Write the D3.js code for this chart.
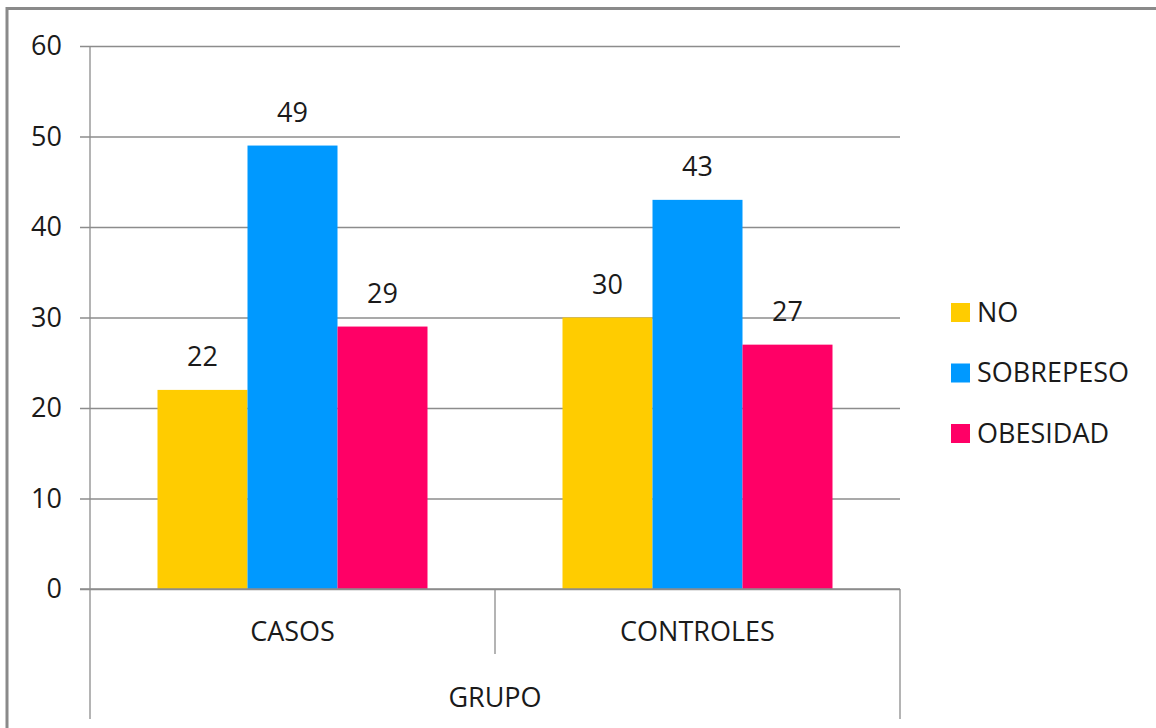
<!DOCTYPE html>
<html>
<head>
<meta charset="utf-8">
<script src="https://cdn.jsdelivr.net/npm/d3@7"></script>
<style>
  body { margin: 0; background: #fff; }
  text { font-family: "Open Sans", sans-serif; fill: #1a1a1a; }
</style>
</head>
<body>
<div id="chart"></div>
<script>
// data
var categories = ["CASOS", "CONTROLES"];
var series = ["NO", "SOBREPESO", "OBESIDAD"];
var noValues = [22, 30];
var sobrepesoValues = [49, 43];
var obesidadValues = [29, 27];
var yTicks = [0, 10, 20, 30, 40, 50, 60];
var axisTitle = "GRUPO";

var colors = ["#ffcc00", "#0099ff", "#ff0066"];
var valuesBySeries = [noValues, sobrepesoValues, obesidadValues];

var svgWidth = 1156;
var svgHeight = 728;

var plot = { left: 90, right: 900, top: 46, bottom: 589 };
var fontSize = 27;

var svg = d3.select("#chart")
  .append("svg")
  .attr("width", svgWidth)
  .attr("height", svgHeight);

// outer frame
svg.append("rect")
  .attr("x", 7)
  .attr("y", 8.5)
  .attr("width", svgWidth + 20)
  .attr("height", svgHeight + 20)
  .attr("fill", "none")
  .attr("stroke", "#8a8a8a")
  .attr("stroke-width", 3);

// scales
var x0 = d3.scaleBand()
  .domain(categories)
  .range([plot.left, plot.right]);

var x1 = d3.scaleBand()
  .domain(series)
  .range([0, x0.bandwidth()])
  .paddingOuter(0.75);

var y = d3.scaleLinear()
  .domain([0, 60])
  .range([plot.bottom, plot.top]);

// y axis with gridlines
var leftAxis = d3.axisLeft(y)
  .tickValues(yTicks)
  .tickSize(-(plot.right - plot.left))
  .tickPadding(28);

var yAxis = svg.append("g")
  .attr("transform", `translate(${plot.left}, 0)`)
  .call(leftAxis);

yAxis.select(".domain").remove();
yAxis.selectAll(".tick line")
  .attr("stroke", "#8c8c8c")
  .attr("stroke-width", 1.3)
  .attr("x1", -10);
yAxis.selectAll(".tick text")
  .style("font-family", "'Open Sans', sans-serif")
  .style("font-size", fontSize + "px")
  .attr("fill", "#1a1a1a");

// vertical axis line (runs down through the category area)
svg.append("line")
  .attr("x1", plot.left).attr("x2", plot.left)
  .attr("y1", plot.top).attr("y2", 719)
  .attr("stroke", "#8c8c8c")
  .attr("stroke-width", 1.3);

// category separators
svg.append("line")
  .attr("x1", x0(categories[1])).attr("x2", x0(categories[1]))
  .attr("y1", plot.bottom).attr("y2", 654)
  .attr("stroke", "#8c8c8c")
  .attr("stroke-width", 1.3);

svg.append("line")
  .attr("x1", plot.right).attr("x2", plot.right)
  .attr("y1", plot.bottom).attr("y2", 719)
  .attr("stroke", "#8c8c8c")
  .attr("stroke-width", 1.3);

// bars
var groups = svg.selectAll(".cat")
  .data(categories)
  .enter()
  .append("g")
  .attr("class", "cat")
  .attr("transform", d => `translate(${x0(d)}, 0)`);

groups.selectAll("rect")
  .data((d, i) => series.map((s, j) => ({ s: s, v: valuesBySeries[j][i], c: colors[j] })))
  .enter()
  .append("rect")
  .attr("x", d => x1(d.s))
  .attr("y", d => y(d.v))
  .attr("width", x1.bandwidth())
  .attr("height", d => y(0) - y(d.v))
  .attr("fill", d => d.c);

// value labels
groups.selectAll(".val")
  .data((d, i) => series.map((s, j) => ({ s: s, v: valuesBySeries[j][i] })))
  .enter()
  .append("text")
  .attr("class", "val")
  .attr("x", d => x1(d.s) + x1.bandwidth() / 2)
  .attr("y", d => y(d.v) - 24)
  .attr("text-anchor", "middle")
  .style("font-size", fontSize + "px")
  .text(d => d.v);

// redraw baseline over bars
svg.append("line")
  .attr("x1", plot.left - 10).attr("x2", plot.right)
  .attr("y1", y(0)).attr("y2", y(0))
  .attr("stroke", "#8c8c8c")
  .attr("stroke-width", 1.3);

// category labels
svg.selectAll(".catlabel")
  .data(categories)
  .enter()
  .append("text")
  .attr("class", "catlabel")
  .attr("x", d => x0(d) + x0.bandwidth() / 2)
  .attr("y", 641)
  .attr("text-anchor", "middle")
  .style("font-size", fontSize + "px")
  .text(d => d);

svg.append("text")
  .attr("x", (plot.left + plot.right) / 2)
  .attr("y", 707)
  .attr("text-anchor", "middle")
  .style("font-size", fontSize + "px")
  .text(axisTitle);

// legend
var legend = svg.selectAll(".legend")
  .data(series)
  .enter()
  .append("g")
  .attr("class", "legend")
  .attr("transform", (d, i) => `translate(951, ${303 + i * 60.5})`);

legend.append("rect")
  .attr("width", 19)
  .attr("height", 19)
  .attr("fill", (d, i) => colors[i]);

legend.append("text")
  .attr("x", 26)
  .attr("y", 18.5)
  .style("font-size", fontSize + "px")
  .text(d => d);
</script>
</body>
</html>
